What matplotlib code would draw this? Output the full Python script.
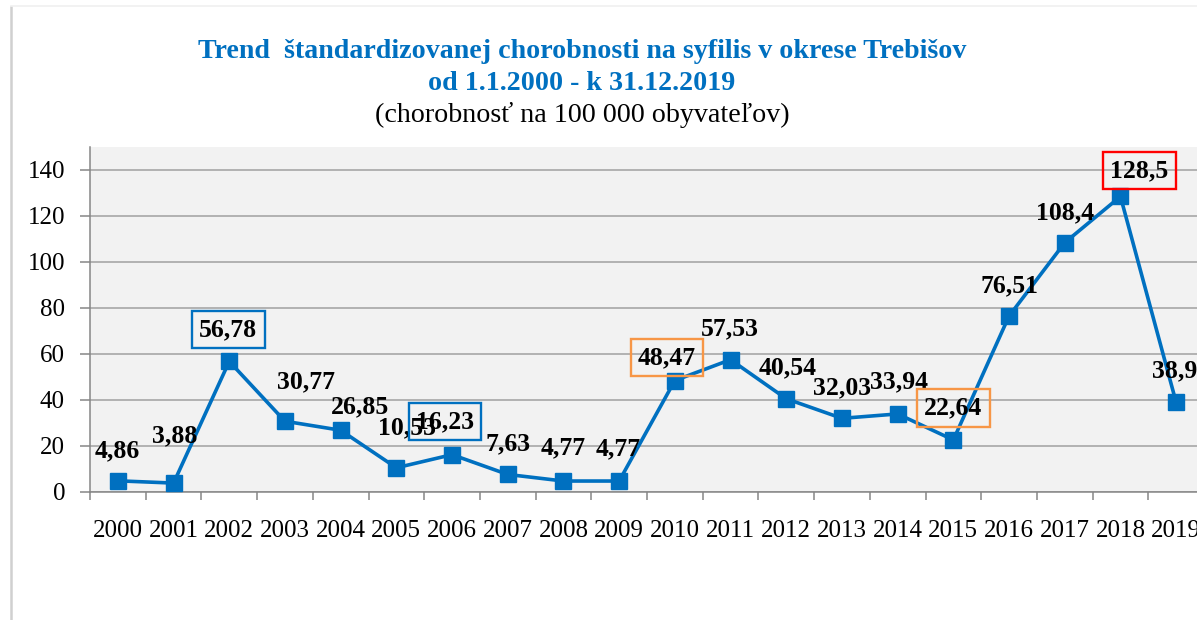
import numpy as np
import matplotlib.pyplot as plt
from matplotlib.lines import Line2D

plt.rcParams['font.family'] = ['Liberation Serif', 'DejaVu Serif']

# data
years = ['2000', '2001', '2002', '2003', '2004', '2005', '2006', '2007', '2008', '2009',
         '2010', '2011', '2012', '2013', '2014', '2015', '2016', '2017', '2018', '2019']
rates = [4.86, 3.88, 56.78, 30.77, 26.85, 10.53, 16.23, 7.63, 4.77, 4.77,
         48.47, 57.53, 40.54, 32.03, 33.94, 22.64, 76.51, 108.4, 128.5, 38.93]
labels = ['4,86', '3,88', '56,78', '30,77', '26,85', '10,53', '16,23', '7,63', '4,77', '4,77',
          '48,47', '57,53', '40,54', '32,03', '33,94', '22,64', '76,51', '108,4', '128,5', '38,93']

# label offsets (pixels) and highlight boxes
label_offsets = [(-1, 30), (1, 47), (-1, 32), (21, 39), (19, 23), (11, 40), (-7, 33), (0, 31),
                 (0, 33), (-1, 32), (-8, 23), (-1, 31), (1, 31), (0, 31), (1, 32), (0, 32),
                 (0, 30), (0, 30), (19, 26), (5, 32)]
box_colors = {2: '#0070C0', 6: '#0070C0', 10: '#F79646', 15: '#F79646', 18: '#FF0000'}

blue = '#0070C0'

W, H = 1197, 620
fig = plt.figure(figsize=(W / 100, H / 100), dpi=100)
fig.patch.set_facecolor('white')

# axes spans past the right edge, as in the cropped original
ax = fig.add_axes([90 / W, (H - 492) / H, (1204 - 90) / W, (492 - 147) / H])
ax.set_facecolor('#F2F2F2')

x = np.arange(len(years))
ax.plot(x, rates, color=blue, lw=2.6, marker='s', ms=11, mfc=blue, mec=blue, zorder=3,
        clip_on=False)

for i, (xi, v) in enumerate(zip(x, rates)):
    dx, dy = label_offsets[i]
    bbox = None
    if i in box_colors:
        bbox = dict(boxstyle='square,pad=0.28', fc='none', ec=box_colors[i], lw=1.7)
    ax.annotate(labels[i], (xi, v), xytext=(dx, dy), textcoords='offset pixels',
                ha='center', va='center', fontsize=18.5, fontweight='bold', color='black',
                bbox=bbox, zorder=4, annotation_clip=False)

ax.set_xlim(-0.5, len(years) - 0.5)
ax.set_ylim(0, 150)
ax.set_yticks(np.arange(0, 141, 20))
ax.yaxis.grid(True, color='#A0A0A0', lw=1.1)
ax.set_axisbelow(True)

ax.set_xticks(x)
ax.set_xticklabels(years)
ax.set_xticks(np.arange(-0.5, len(years), 1), minor=True)
ax.tick_params(axis='x', which='major', length=0, pad=20, labelsize=18)
ax.tick_params(axis='x', which='minor', length=6, width=1.1, color='#868686', direction='out')
ax.tick_params(axis='y', length=7, width=1.1, color='#868686', pad=11, labelsize=18)

for s in ['top', 'right']:
    ax.spines[s].set_visible(False)
for s in ['left', 'bottom']:
    ax.spines[s].set_color('#868686')
    ax.spines[s].set_linewidth(1.1)

# title block
fig.text(582 / W, 1 - 51 / H, 'Trend  štandardizovanej chorobnosti na syfilis v okrese Trebišov',
         ha='center', va='center', fontsize=20.2, fontweight='bold', color=blue)
fig.text(582 / W, 1 - 84 / H, 'od 1.1.2000 - k 31.12.2019',
         ha='center', va='center', fontsize=20.2, fontweight='bold', color=blue)
fig.text(582 / W, 1 - 115 / H, '(chorobnosť na 100 000 obyvateľov)',
         ha='center', va='center', fontsize=20.2, color='black')

# frame edges of the pasted chart
fig.add_artist(Line2D([11 / W, 11 / W], [0, 1 - 7 / H], transform=fig.transFigure,
                      color='#D0D0D0', lw=1.8))
fig.add_artist(Line2D([11 / W, 1], [1 - 6 / H, 1 - 6 / H], transform=fig.transFigure,
                      color='#F0F0F0', lw=1.2))

fig.savefig('out.png', dpi=100)
